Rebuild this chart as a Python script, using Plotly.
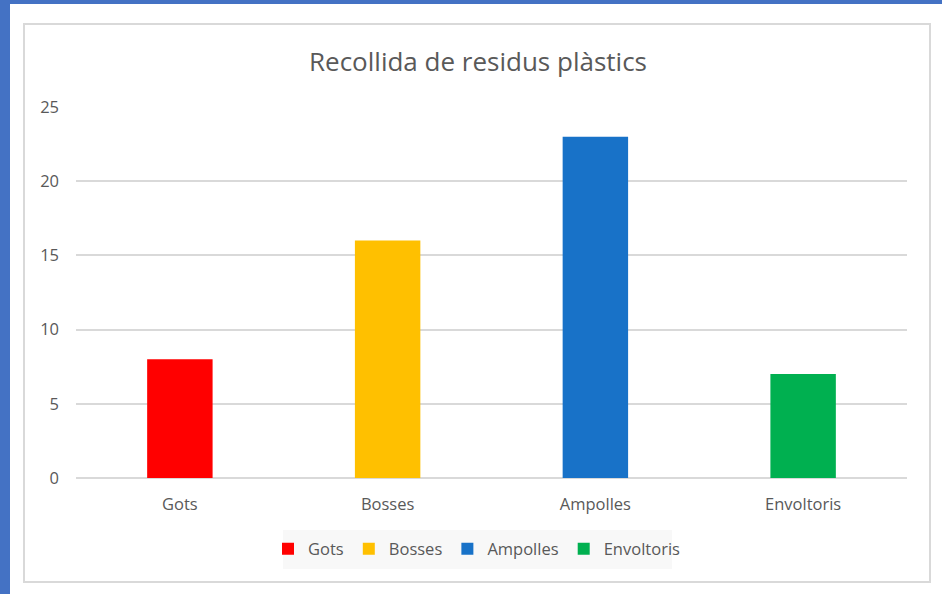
import plotly.graph_objects as go

categories = ["Gots", "Bosses", "Ampolles", "Envoltoris"]
values = [8, 16, 23, 7]
colors = ["#FF0000", "#FFC000", "#1872C8", "#00B050"]
y_ticks = [0, 5, 10, 15, 20, 25]

W, H = 942, 594
L, R, T, B = 76, 907, 107, 478
PW, PH = R - L, B - T

def px(x):
    return (x - L) / PW

def py(y):
    return (B - y) / PH

fig = go.Figure()
for c, v, col in zip(categories, values, colors):
    fig.add_trace(go.Bar(x=[c], y=[v], name=c, marker_color=col, width=0.315,
                         marker_line_width=0))

shapes = [
    dict(type="rect", xref="paper", yref="paper", x0=px(0), x1=px(10), y0=py(0), y1=py(H),
         fillcolor="#4472C4", line_width=0, layer="below"),
    dict(type="rect", xref="paper", yref="paper", x0=px(0), x1=px(W), y0=py(0), y1=py(4),
         fillcolor="#4472C4", line_width=0, layer="below"),
    dict(type="rect", xref="paper", yref="paper", x0=px(24), x1=px(930), y0=py(24), y1=py(582),
         fillcolor="rgba(0,0,0,0)", line=dict(color="#D9D9D9", width=2), layer="below"),
    dict(type="rect", xref="paper", yref="paper", x0=px(283), x1=px(672), y0=py(530), y1=py(569),
         fillcolor="#F8F8F8", line_width=0, layer="below"),
]

fig.update_layout(
    width=W, height=H,
    margin=dict(l=L, r=W - R, t=T, b=H - B),
    paper_bgcolor="white", plot_bgcolor="white",
    barmode="overlay",
    font=dict(family="Open Sans", color="#595959", size=16.5),
    title=dict(text="Recollida de residus plàstics", xref="container", x=478 / W, xanchor="center",
               y=1 - 62 / H, yanchor="middle", font=dict(size=26, color="#595959")),
    shapes=shapes,
    showlegend=True,
    legend=dict(orientation="h", x=px(477), xanchor="center", y=py(549), yanchor="middle",
                bgcolor="rgba(0,0,0,0)", font=dict(size=16.5, color="#595959"),
                itemwidth=30, traceorder="normal"),
    xaxis=dict(showgrid=False, showline=False, ticks="", tickfont=dict(size=16.5),
               ticklabelstandoff=14),
    yaxis=dict(range=[0, 25], tickvals=y_ticks, showgrid=True, gridcolor="#D9D9D9", gridwidth=1.5,
               zeroline=True, zerolinecolor="#D9D9D9", zerolinewidth=1.5, showline=False,
               ticks="", tickfont=dict(size=16.5), ticklabelstandoff=16),
)

fig.write_html("out.html", config={"displayModeBar": False},
               post_script="document.body.style.margin='0';")
